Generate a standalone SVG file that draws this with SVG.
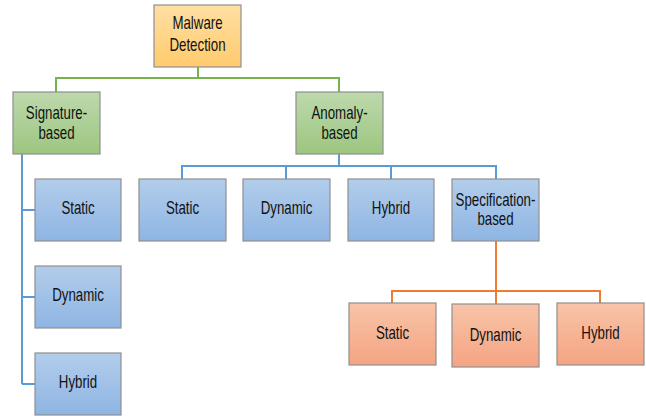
<svg xmlns="http://www.w3.org/2000/svg" width="646" height="416" viewBox="0 0 646 416">
<defs>
<linearGradient id="gY" x1="0" y1="0" x2="0" y2="1"><stop offset="0" stop-color="#FFDFA3"/><stop offset="1" stop-color="#FFCB6E"/></linearGradient>
<linearGradient id="gG" x1="0" y1="0" x2="0" y2="1"><stop offset="0" stop-color="#BDD9AC"/><stop offset="1" stop-color="#9CC67F"/></linearGradient>
<linearGradient id="gB" x1="0" y1="0" x2="0" y2="1"><stop offset="0" stop-color="#B3CDEB"/><stop offset="1" stop-color="#8EB5E3"/></linearGradient>
<linearGradient id="gO" x1="0" y1="0" x2="0" y2="1"><stop offset="0" stop-color="#F8C4A8"/><stop offset="1" stop-color="#F4A482"/></linearGradient>
</defs>
<style>
rect{stroke:#8F8F8F;stroke-width:1.2}
.y{fill:url(#gY)} .g{fill:url(#gG)} .b{fill:url(#gB)} .o{fill:url(#gO)}
text{font-family:"Liberation Sans",Arial,sans-serif;font-size:17.5px;fill:#111;text-anchor:middle}
.c path{fill:none;stroke-width:2}
.cg{stroke:#77B448}.cb{stroke:#5B9BD5}.co{stroke:#ED7D31}
</style>
<g class="c" id="connectors">
<path class="cg" d="M198 67V78M56 92V78H339V92"/>
<path class="cb" d="M22 154V384M22 210H35M22 297H35M22 384H35"/>
<path class="cb" d="M339 154V166M182 179V166H496V179M286 166V179M391 166V179"/>
<path class="co" d="M496 241V304M392 303V291H600V303"/>
</g>
<g id="malware"><rect class="y" x="154" y="5" width="87" height="62"/>
<text transform="translate(197.5,29.3) scale(0.76,1)">Malware</text><text transform="translate(197.5,50.7) scale(0.76,1)">Detection</text></g>
<g id="signature"><rect class="g" x="13" y="92" width="87" height="62"/>
<text transform="translate(56.5,118.7) scale(0.76,1)">Signature-</text><text transform="translate(56.5,138.7) scale(0.76,1)">based</text></g>
<g id="anomaly"><rect class="g" x="296" y="92" width="87" height="62"/>
<text transform="translate(339.5,118.7) scale(0.76,1)">Anomaly-</text><text transform="translate(339.5,138.7) scale(0.76,1)">based</text></g>
<g id="sig-static"><rect class="b" x="35" y="179" width="86" height="62"/><text transform="translate(78,214.3) scale(0.76,1)">Static</text></g>
<g id="sig-dynamic"><rect class="b" x="35" y="266" width="86" height="62"/><text transform="translate(78,301.3) scale(0.76,1)">Dynamic</text></g>
<g id="sig-hybrid"><rect class="b" x="35" y="353" width="86" height="62"/><text transform="translate(78,388.3) scale(0.76,1)">Hybrid</text></g>
<g id="ano-static"><rect class="b" x="139" y="179" width="87" height="62"/><text transform="translate(182.5,214.3) scale(0.76,1)">Static</text></g>
<g id="ano-dynamic"><rect class="b" x="243" y="179" width="87" height="62"/><text transform="translate(286.5,214.3) scale(0.76,1)">Dynamic</text></g>
<g id="ano-hybrid"><rect class="b" x="348" y="179" width="86" height="62"/><text transform="translate(391,214.3) scale(0.76,1)">Hybrid</text></g>
<g id="spec"><rect class="b" x="452" y="179" width="87" height="62"/>
<text transform="translate(495.5,205.7) scale(0.76,1)">Specification-</text><text transform="translate(495.5,225.3) scale(0.76,1)">based</text></g>
<g id="spec-static"><rect class="o" x="349" y="303" width="87" height="62"/><text transform="translate(392.5,339) scale(0.76,1)">Static</text></g>
<g id="spec-dynamic"><rect class="o" x="452" y="304" width="87" height="63"/><text transform="translate(495.5,341) scale(0.76,1)">Dynamic</text></g>
<g id="spec-hybrid"><rect class="o" x="557" y="303" width="87" height="62"/><text transform="translate(600.5,339) scale(0.76,1)">Hybrid</text></g>
</svg>
